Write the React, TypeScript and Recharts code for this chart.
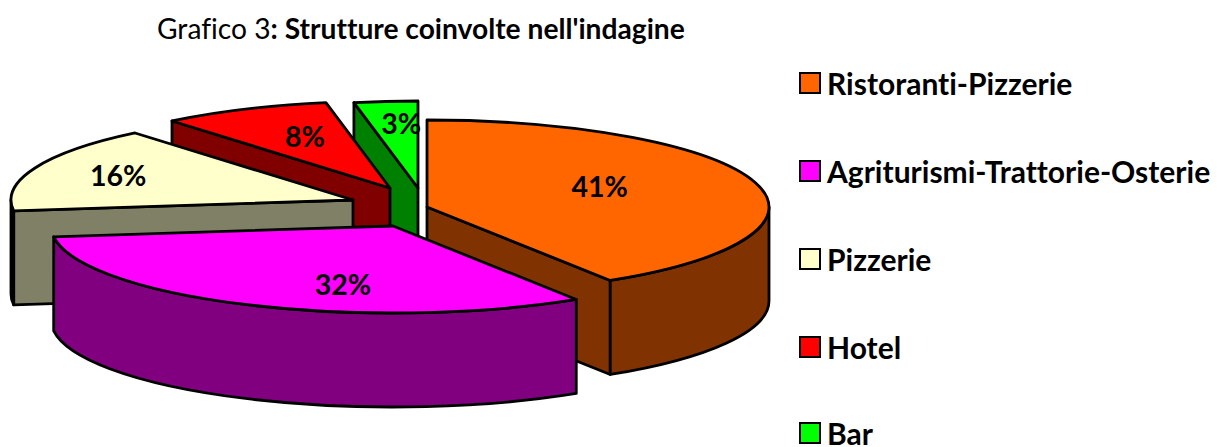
import React from "react";
import { PieChart, Pie, Legend } from "recharts";

const TITLE_PLAIN = "Grafico 3";
const TITLE_BOLD = ": Strutture coinvolte nell'indagine";

// Drawn counter-clockwise so that the front slices paint last.
const drawNames = ["Ristoranti-Pizzerie", "Bar", "Hotel", "Pizzerie", "Agriturismi-Trattorie-Osterie"];
const drawValues = [41, 3, 8, 16, 32];
const legendNames = ["Ristoranti-Pizzerie", "Agriturismi-Trattorie-Osterie", "Pizzerie", "Hotel", "Bar"];

const topColors: Record<string, string> = {
  "Ristoranti-Pizzerie": "#FF6600",
  "Agriturismi-Trattorie-Osterie": "#FF00FF",
  Pizzerie: "#FFFFCC",
  Hotel: "#FF0000",
  Bar: "#00FF00",
};
const sideColors: Record<string, string> = {
  "Ristoranti-Pizzerie": "#803300",
  "Agriturismi-Trattorie-Osterie": "#800080",
  Pizzerie: "#808066",
  Hotel: "#800000",
  Bar: "#008000",
};
// Explosion of each slice from the pie centre, in pixels.
const explode: Record<string, [number, number]> = {
  "Ristoranti-Pizzerie": [0, 0],
  "Agriturismi-Trattorie-Osterie": [-34, 19],
  Pizzerie: [-74, -7],
  Hotel: [-37, -19],
  Bar: [-9, -19],
};
const labelNudge: Record<string, [number, number]> = {
  "Ristoranti-Pizzerie": [-8, -8],
  "Agriturismi-Trattorie-Osterie": [30, 15],
  Pizzerie: [-60, -7],
  Hotel: [-5, -9],
  Bar: [1, -17],
};

const data = drawNames.map((name, i) => ({ name, value: drawValues[i] }));

const W = 1217;
const H = 447;
const CX = 427;
const CY = 207;
const RX = 342;
const RY = 87;
const DEPTH = 94;
const STROKE = 2.8;
const FONT = "Lato, Carlito, 'Open Sans', sans-serif";

const rad = (d: number) => (d * Math.PI) / 180;
const rim = (cx: number, cy: number, a: number): [number, number] => [
  cx + RX * Math.cos(rad(a)),
  cy - RY * Math.sin(rad(a)),
];
const f = (p: [number, number]) => `${p[0].toFixed(2)} ${p[1].toFixed(2)}`;

function SliceShape(props: any) {
  const { cx, cy, startAngle, endAngle, name } = props;
  const a0 = Math.min(startAngle, endAngle);
  const a1 = Math.max(startAngle, endAngle);
  const [ox, oy] = explode[name] ?? [0, 0];
  const x = cx + ox;
  const y = cy + oy;
  const top = topColors[name];
  const side = sideColors[name];
  const common = { stroke: "#000", strokeWidth: STROKE, strokeLinejoin: "round" as const };

  const faces: React.ReactNode[] = [];
  const face = (a: number, key: string) => {
    const p = rim(x, y, a);
    faces.push(
      <path
        key={key}
        d={`M ${x} ${y} L ${f(p)} L ${p[0]} ${p[1] + DEPTH} L ${x} ${y + DEPTH} Z`}
        fill={side}
        {...common}
      />
    );
  };
  // a1 is the clockwise start edge, a0 the clockwise end edge.
  const pStart = rim(x, y, a1);
  const pEnd = rim(x, y, a0);
  if (pStart[0] < x - 0.5) face(a1, "start");
  if (pEnd[0] > x + 0.5) face(a0, "end");

  const walls: React.ReactNode[] = [];
  [
    [-180, 0],
    [180, 360],
  ].forEach(([lo, hi]) => {
    const s = Math.max(a0, lo);
    const e = Math.min(a1, hi);
    if (e > s) {
      const p = rim(x, y, s);
      const q = rim(x, y, e);
      const large = e - s > 180 ? 1 : 0;
      walls.push(
        <path
          key={lo}
          d={`M ${f(p)} A ${RX} ${RY} 0 ${large} 0 ${f(q)} L ${q[0]} ${q[1] + DEPTH} A ${RX} ${RY} 0 ${large} 1 ${p[0]} ${p[1] + DEPTH} Z`}
          fill={side}
          {...common}
        />
      );
    }
  });

  const large = a1 - a0 > 180 ? 1 : 0;
  return (
    <g>
      {faces}
      {walls}
      <path
        d={`M ${x} ${y} L ${f(pEnd)} A ${RX} ${RY} 0 ${large} 0 ${f(pStart)} Z`}
        fill={top}
        {...common}
      />
    </g>
  );
}

function SliceLabel(props: any) {
  const { cx, cy, midAngle, name, percent } = props;
  const [ox, oy] = explode[name] ?? [0, 0];
  const [nx, ny] = labelNudge[name] ?? [0, 0];
  const tx = cx + ox + 0.55 * RX * Math.cos(rad(midAngle)) + nx;
  const ty = cy + oy - 0.55 * RY * Math.sin(rad(midAngle)) + ny;
  return (
    <text
      x={tx}
      y={ty}
      textAnchor="middle"
      dominantBaseline="central"
      fontFamily={FONT}
      fontWeight={700}
      fontSize={28.5}
      fill="#000"
    >
      {`${Math.round(percent * 100)}%`}
    </text>
  );
}

function LegendBox() {
  return (
    <div style={{ position: "relative", width: 417, height: 377 }}>
      {legendNames.map((n, i) => (
        <div
          key={n}
          style={{
            position: "absolute",
            left: 0,
            top: i * 88 - (i === 4 ? 2 : 0),
            height: 26,
            display: "flex",
            alignItems: "center",
            whiteSpace: "nowrap",
          }}
        >
          <span
            style={{
              display: "inline-block",
              boxSizing: "border-box",
              width: 22,
              height: 22,
              background: topColors[n],
              border: "2.6px solid #000",
              marginRight: 6,
            }}
          />
          <span
            style={{
              fontFamily: FONT,
              fontWeight: 700,
              fontSize: 30,
              color: "#000",
              lineHeight: "26px",
              fontVariantLigatures: "none",
            }}
          >
            {n}
          </span>
        </div>
      ))}
    </div>
  );
}

export default function App() {
  return (
    <div style={{ position: "absolute", left: 0, top: 0, width: W, height: H, background: "#fff", overflow: "hidden" }}>
      <div
        style={{
          position: "absolute",
          left: 157,
          top: 13,
          fontFamily: FONT,
          fontSize: 28.2,
          lineHeight: "30px",
          whiteSpace: "nowrap",
          color: "#000",
          fontVariantLigatures: "none",
        }}
      >
        {TITLE_PLAIN}
        <b>{TITLE_BOLD}</b>
      </div>
      <PieChart width={W} height={H} margin={{ top: 0, right: 0, bottom: 0, left: 0 }}>
        <Pie
          data={data}
          dataKey="value"
          nameKey="name"
          cx={CX}
          cy={CY}
          innerRadius={0}
          outerRadius={RX}
          startAngle={-57.6}
          endAngle={302.4}
          paddingAngle={0}
          stroke="#000"
          isAnimationActive={false}
          shape={SliceShape}
          label={SliceLabel}
          labelLine={false}
        />
        <Legend
          content={LegendBox}
          layout="vertical"
          wrapperStyle={{ position: "absolute", left: 799, top: 70, width: 417, height: 377, bottom: "auto", right: "auto" }}
        />
      </PieChart>
    </div>
  );
}
